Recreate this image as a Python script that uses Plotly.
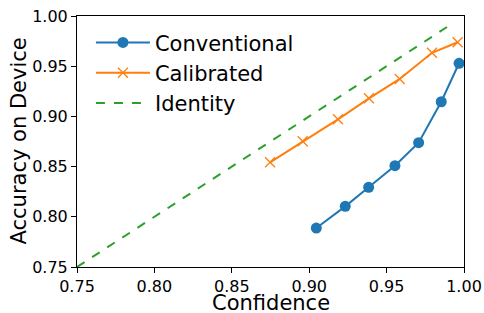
import plotly.graph_objects as go

conv_x = [0.9046, 0.9233, 0.9384, 0.9554, 0.9707, 0.9853, 0.9968]
conv_y = [0.7888, 0.8104, 0.8294, 0.8509, 0.8738, 0.9146, 0.9529]
cal_x = [0.8747, 0.8958, 0.9186, 0.9386, 0.9585, 0.9793, 0.9959]
cal_y = [0.8543, 0.8752, 0.8971, 0.9180, 0.9373, 0.9634, 0.9738]
id_x = [0.75, 0.99]
id_y = [0.75, 0.99]
ticks = [0.75, 0.80, 0.85, 0.90, 0.95, 1.00]
tick_text = ["0.75", "0.80", "0.85", "0.90", "0.95", "1.00"]
x_title = "Confidence"
y_title = "Accuracy on Device"

FONT = "DejaVu Sans"

fig = go.Figure()
fig.add_trace(go.Scatter(x=conv_x, y=conv_y, mode="lines+markers", name="Conventional",
                         legendgroup="a",
                         line=dict(color="#1f77b4", width=2),
                         marker=dict(symbol="circle", size=11, color="#1f77b4")))
fig.add_trace(go.Scatter(x=cal_x, y=cal_y, mode="lines+markers", name="Calibrated",
                         legendgroup="b",
                         line=dict(color="#ff7f0e", width=2),
                         marker=dict(symbol="x-thin", size=10, line=dict(color="#ff7f0e", width=1.3))))
fig.add_trace(go.Scatter(x=id_x, y=id_y, mode="lines", name="Identity",
                         legendgroup="c",
                         line=dict(color="#2ca02c", width=2, dash="dash")))

axis_common = dict(showgrid=False, zeroline=False, showline=True, linecolor="black", linewidth=1,
                   mirror=True, ticks="outside", ticklen=5, tickwidth=1, tickcolor="black",
                   tickfont=dict(family=FONT, size=16, color="black"),
                   tickvals=ticks, ticktext=tick_text, range=[0.75, 1.0], automargin=False)
fig.update_xaxes(**axis_common)
fig.update_yaxes(**axis_common)

title_font = dict(family=FONT, size=21, color="black")
fig.add_annotation(text=x_title, xref="paper", yref="paper", x=0.5, y=0,
                   xanchor="center", yanchor="middle", yshift=-36, showarrow=False, font=title_font,
                   borderpad=0)
fig.add_annotation(text=y_title, xref="paper", yref="paper", x=0, y=0.5, textangle=-90,
                   xanchor="center", yanchor="middle", xshift=-59, showarrow=False, font=title_font,
                   borderpad=0)

fig.update_layout(width=484, height=313, margin=dict(l=77, r=20, t=16, b=46),
                  plot_bgcolor="white", paper_bgcolor="white",
                  font=dict(family=FONT, color="black"),
                  legend=dict(x=0.036, y=0.975, xanchor="left", yanchor="top",
                              font=dict(family=FONT, size=21, color="black"),
                              bgcolor="rgba(255,255,255,0)", tracegroupgap=0, itemwidth=54))

fig.write_html("out.html", config={"displayModeBar": False},
               post_script="document.body.style.margin='0';document.body.style.overflow='hidden';")
